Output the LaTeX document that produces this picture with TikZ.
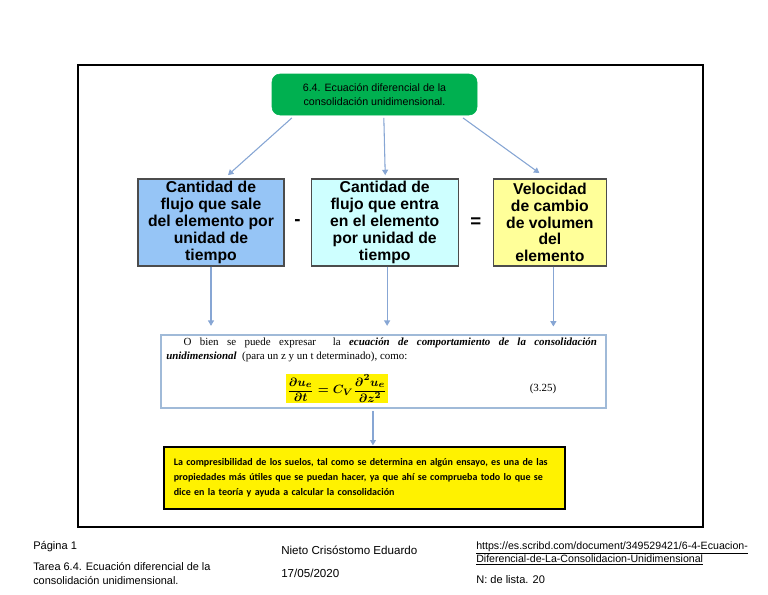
\documentclass[tikz,border=0pt]{standalone}
\usepackage{fontspec}
\setmainfont{Liberation Sans}
\newfontfamily\timesfont{Liberation Serif}
\newfontfamily\notefont{Carlito}
\usetikzlibrary{arrows.meta,positioning,calc}

\definecolor{titlegreen}{RGB}{0,176,80}
\definecolor{salidablue}{RGB}{150,197,246}
\definecolor{entradacyan}{RGB}{206,255,255}
\definecolor{cambioyellow}{RGB}{255,255,153}
\definecolor{arrowblue}{RGB}{135,166,212}
\definecolor{eqborder}{RGB}{160,186,216}

\newcommand{\balance}{\displaystyle\frac{\partial u_e}{\partial t} = C_V\frac{\partial^2 u_e}{\partial z^2}}

\begin{document}
\begin{tikzpicture}[
  x=0.75pt, y=-0.75pt,
  >={Triangle[length=4pt,width=4.5pt]},
  box/.style={draw=black!70, line width=0.9pt, minimum height=65.25pt,
              inner sep=0pt, align=center,
              font=\fontsize{11.8}{12.6}\selectfont\bfseries},
  sign/.style={font=\fontsize{14}{14}\selectfont\bfseries, inner sep=0pt},
  arr/.style={->, draw=arrowblue, fill=arrowblue, line width=0.8pt},
  foot/.style={font=\fontsize{8.3}{10.5}\selectfont, align=left, inner sep=0pt},
]
\useasboundingbox (0,0) rectangle (768,594);

% Page frame
\draw[black, line width=0.9pt] (78,65) rectangle (703,527);

% Title
\node[draw=titlegreen, fill=titlegreen, rounded corners=6pt, minimum width=153.75pt,
      minimum height=30.75pt, align=center, font=\fontsize{8}{10.5}\selectfont]
  (titulo) at (374.5,94.5) {6.4. Ecuación diferencial de la\\consolidación unidimensional.};

% Balance boxes
\node[box, fill=salidablue, minimum width=109.5pt] (salida) at (211,222.5)
  {Cantidad de\\flujo que sale\\del elemento por\\unidad de\\tiempo};
\node[box, fill=entradacyan, minimum width=110.25pt, right=19.5pt of salida] (entrada)
  {Cantidad de\\flujo que entra\\en el elemento\\por unidad de\\tiempo};
\node[box, fill=cambioyellow, minimum width=84.75pt, right=25.5pt of entrada] (cambio)
  {Velocidad\\de cambio\\de volumen\\del\\elemento};
\node[sign] (menos) at ($(salida.east)!0.5!(entrada.west)$) {-};
\node[sign] (igual) at ($(entrada.east)!0.5!(cambio.west)$) {=};

% Equation
\node[draw=eqborder, line width=0.8pt, minimum width=333.75pt, minimum height=54.75pt,
      inner sep=0pt] (eqbox) at (383.5,371.5) {};
\node[anchor=north west, text width=323pt, align=justify, inner sep=0pt,
      font=\timesfont\fontsize{8.2}{10.5}\selectfont] (eqtext) at (166,338)
  {\hspace*{13pt}O bien se puede expresar {} la \textbf{\textit{ecuación de comportamiento de la consolidación}}\linebreak
   \textbf{\textit{unidimensional}} {} (para un z y un t determinado), como:};
\node[fill=yellow, inner sep=0.8pt, font=\fontsize{9.3}{12}\selectfont\boldmath] (formula) at (337,388.5) {$\balance$};
\node[font=\timesfont\fontsize{8.2}{10}\selectfont, inner sep=0pt] (eqnum) at (543,389) {(3.25)};

% Note
\node[draw=black, line width=0.9pt, fill=yellow, minimum width=300.75pt, minimum height=46.5pt,
      text width=286pt, inner xsep=7.4pt, align=left,
      font=\notefont\bfseries\fontsize{7.5}{11.25}\selectfont] (nota) at (364.5,478)
  {La compresibilidad de los suelos, tal como se determina en algún ensayo, es una de las\\
   propiedades más útiles que se puedan hacer, ya que ahí se comprueba todo lo que se\\
   dice en la teoría y ayuda a calcular la consolidación};

% Arrows
\draw[arr] ([xshift=-62pt,yshift=-2pt]titulo.south) -- ([xshift=12.75pt,yshift=2.5pt]salida.north);
\draw[arr] ([xshift=7pt,yshift=-2pt]titulo.south) -- ([xshift=0.4pt,yshift=2.5pt]entrada.north);
\draw[arr] ([xshift=66.4pt,yshift=-2pt]titulo.south) -- ([xshift=-7.9pt,yshift=4pt]cambio.north);
\draw[arr, shorten >=6.5pt] (salida.south) -- (salida.south |- eqbox.north);
\draw[arr, shorten >=6.5pt] ([xshift=1.8pt]entrada.south) -- ([xshift=1.8pt]entrada.south |- eqbox.north);
\draw[arr, shorten >=6pt] ([xshift=2.6pt]cambio.south) -- ([xshift=2.6pt]cambio.south |- eqbox.north);
\draw[arr, shorten >=0.8pt] ([xshift=-7.9pt,yshift=-1.5pt]eqbox.south) -- ([xshift=-7.9pt]eqbox.south |- nota.north);

% Footer
\node[foot, anchor=base west] (pagina) at (33,549) {Página 1};
\node[foot, anchor=base west, font=\fontsize{8.2}{10.5}\selectfont] (tarea) at (33,584)
  {Tarea 6.4. Ecuación diferencial de la\\consolidación unidimensional.};
\node[foot, anchor=base west, font=\fontsize{8.7}{10.5}\selectfont] (autor) at (281,554) {Nieto Crisóstomo Eduardo};
\node[foot, anchor=base west, font=\fontsize{8.7}{10.5}\selectfont] (fecha) at (281,577) {17/05/2020};
\node[foot, anchor=base west, font=\fontsize{7.95}{9.75}\selectfont] (enlace) at (476,562)
  {\underline{https://es.scribd.com/document/349529421/6-4-Ecuacion-}\\\underline{Diferencial-de-La-Consolidacion-Unidimensional}};
\node[foot, anchor=base west] (lista) at (476,583) {N: de lista. 20};

\end{tikzpicture}
\end{document}
